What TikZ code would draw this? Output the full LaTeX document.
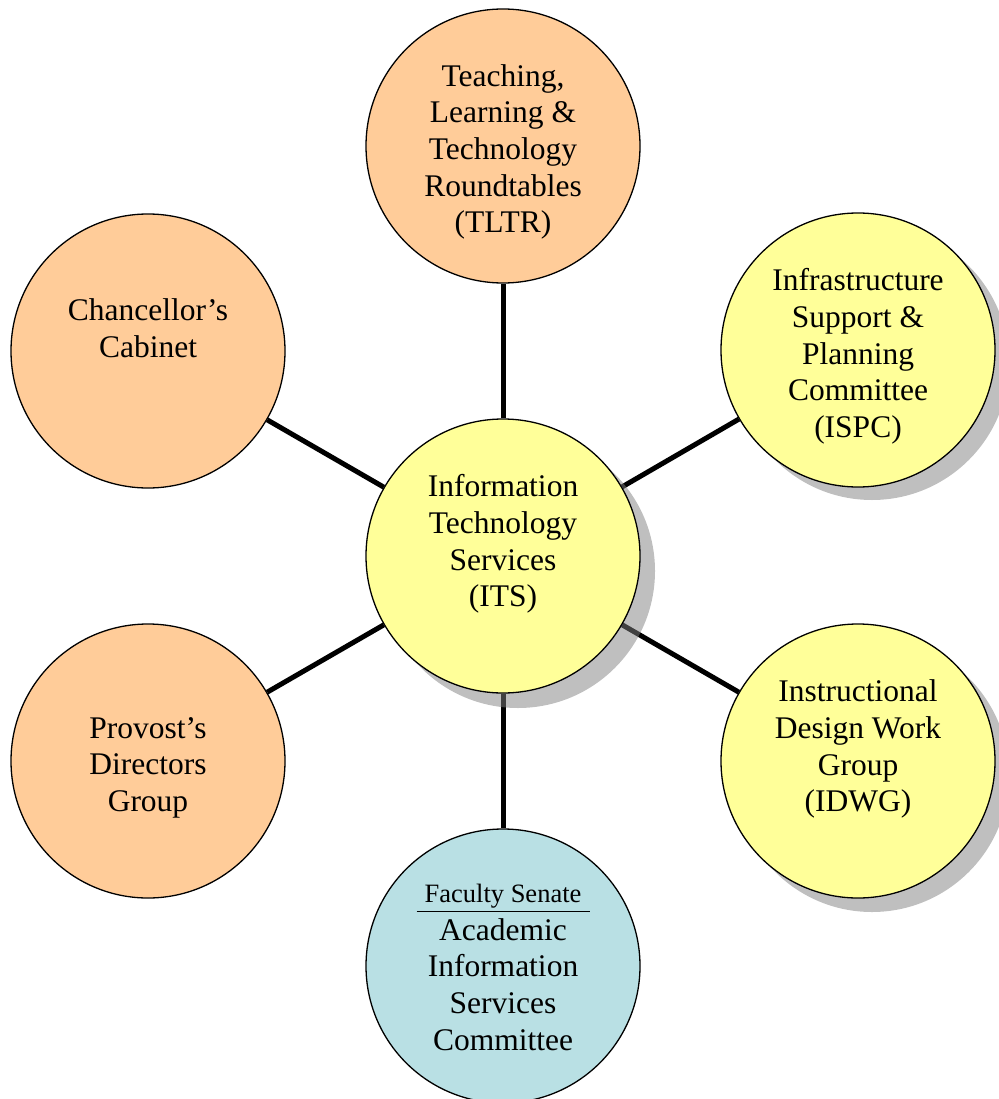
\documentclass[tikz,border=0pt]{standalone}
\usepackage{fontspec}
\setmainfont{Liberation Serif}
\pgfdeclarelayer{lines}
\pgfdeclarelayer{shadows}
\pgfsetlayers{lines,shadows,main}
\definecolor{orng}{RGB}{255,204,153}
\definecolor{ylw}{RGB}{255,255,153}
\definecolor{blu}{RGB}{185,224,228}
\begin{document}
\begin{tikzpicture}[x=1pt,y=-1pt,
  bub/.style={circle, draw=black, line width=1.3pt, minimum size=274pt, inner sep=0pt},
  txt/.style={align=center, anchor=north, inner sep=0pt, font=\fontsize{31.5}{36.7}\selectfont},
  smalltxt/.style={align=center, anchor=north, inner sep=0pt, font=\fontsize{26.5}{31.8}\selectfont},
  link/.style={line width=5pt, draw=black},
  shad/.style={fill=gray, fill opacity=0.5}]
\useasboundingbox (0,0) rectangle (998,1099);
\clip (0,0) rectangle (998,1099);

% circles
\node[bub, fill=ylw]  (its)  at (503,556) {};
\node[bub, fill=orng] (tltr) at (503,146) {};
\node[bub, fill=orng] (chan) at (148,351) {};
\node[bub, fill=ylw]  (ispc) at (858,350) {};
\node[bub, fill=orng] (prov) at (148,761) {};
\node[bub, fill=ylw]  (idwg) at (858,761) {};
\node[bub, fill=blu]  (fac)  at (503,966) {};

% shadows
\begin{pgfonlayer}{shadows}
  \fill[shad] ([shift={(15,15)}]its.center)  circle[radius=137pt];
  \fill[shad] ([shift={(14,13)}]ispc.center) circle[radius=137pt];
  \fill[shad] ([shift={(14,14)}]idwg.center) circle[radius=137pt];
\end{pgfonlayer}

% connectors
\begin{pgfonlayer}{lines}
  \draw[link] (its) -- (tltr);
  \draw[link] (its) -- (chan);
  \draw[link] (its) -- (ispc);
  \draw[link] (its) -- (prov);
  \draw[link] (its) -- (idwg);
  \draw[link] (its) -- (fac);
\end{pgfonlayer}

% texts
\node[txt] (tltr-t) at (503,60.3) {\strut Teaching,\\Learning \&\\Technology\\Roundtables\\(TLTR)};
\node[txt] (chan-t) at (148,295) {\strut Chancellor’s\\Cabinet};
\node[txt] (ispc-t) at (858,265) {\strut Infrastructure\\Support \&\\Planning\\Committee\\(ISPC)};
\node[txt] (its-t)  at (503,471) {\strut Information\\Technology\\Services\\(ITS)};
\node[txt] (idwg-t) at (858,676) {\strut Instructional\\Design Work\\Group\\(IDWG)};
\node[txt] (prov-t) at (148,712.3) {\strut Provost’s\\Directors\\Group};
\node[smalltxt] (fac-s) at (503,880.4) {\strut Faculty Senate};
\draw[line width=1.3pt] ([shift={(-86.3,-54.3)}]fac.center) -- ++(173.3,0);
\node[txt] (fac-t)  at (503,914.3) {\strut Academic\\Information\\Services\\Committee};
\end{tikzpicture}
\end{document}
